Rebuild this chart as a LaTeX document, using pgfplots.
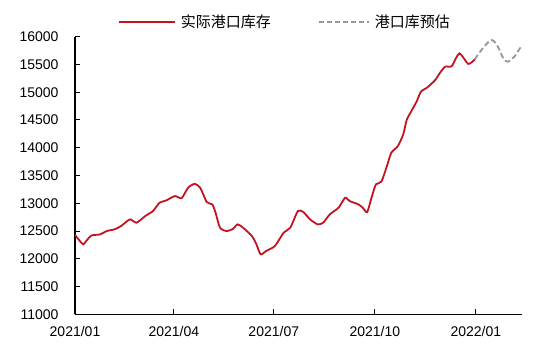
\documentclass[border=0pt]{standalone}
\usepackage{fontspec}
\setmainfont{Liberation Sans}
\newfontfamily\cjk{Noto Sans CJK SC}
\usepackage{pgfplots}
\pgfplotsset{compat=1.18}
\definecolor{redline}{RGB}{196,18,32}
\definecolor{grayline}{RGB}{150,150,150}
\begin{document}
\begin{tikzpicture}
\useasboundingbox (-75pt,-36.7pt) rectangle (475pt,314.3pt);
\begin{axis}[
  at={(0,0)}, anchor=south west,
  scale only axis, width=447pt, height=277.6pt,
  xmin=0, xmax=407, ymin=11000, ymax=16000,
  axis x line*=bottom, axis y line*=left,
  axis line style={black, line width=1.1pt, -},
  tick align=inside, major tick length=5pt,
  tick style={black, line width=1pt},
  scaled y ticks=false,
  ytick={11000,11500,...,16000},
  yticklabel={\pgfmathprintnumber[fixed,precision=0,1000 sep={}]{\tick}},
  xtick={0,90,181,273,365},
  xticklabels={2021/01,2021/04,2021/07,2021/10,2022/01},
  ticklabel style={font=\fontsize{14}{16}\selectfont},
  /pgf/number format/assume math mode=true,
  y tick label style={xshift=-13pt},
  x tick label style={yshift=-9pt},
  legend columns=2,
  legend style={draw=none, fill=none, inner sep=0pt,
    at={(axis description cs:0,1)}, anchor=west, xshift=43pt, yshift=15pt,
    font=\fontsize{15}{18}\selectfont\cjk,
    /tikz/every odd column/.append style={column sep=3pt},
    /tikz/every even column/.append style={column sep=45pt}},
]
\addplot[redline, line width=1.8pt, smooth, tension=0.4,
  legend image code/.code={\draw[redline, line width=1.8pt] (0pt,0pt) -- (56pt,0pt);}]
coordinates {
(0,12430) (4,12330) (7.5,12260) (11,12340) (15,12420) (23,12440) (29,12500)
(36,12530) (42,12590) (50,12710) (56,12650) (64,12770) (71,12860) (77,13010)
(83,13050) (91,13130) (97,13090) (103,13280) (109,13350) (114,13280) (120,13020)
(125,12980) (128,12830) (132,12560) (138,12500) (144,12540) (148,12620) (153,12560)
(161,12410) (165,12270) (169,12080) (174,12140) (182,12230) (190,12470) (196,12560)
(203,12860) (208,12840) (214,12710) (221,12620) (226,12650) (232,12800) (240,12920)
(246,13100) (250,13040) (258,12980) (262,12920) (266,12840) (270,13100) (274,13340)
(279,13390) (284,13670) (288,13910) (294,14030) (299,14250) (302,14500) (306,14650)
(311,14830) (315,15010) (321,15090) (328,15220) (332,15340) (337,15460) (343,15470)
(350,15700) (358,15510) (364,15590)
};
\addlegendentry{实际港口库存}
\addplot[grayline, line width=1.8pt, smooth, tension=0.5, dash pattern=on 5.5pt off 3pt,
  legend image code/.code={\draw[grayline, line width=1.8pt, dash pattern=on 5pt off 3pt] (0pt,0pt) -- (50pt,0pt);}]
coordinates {
(364,15590) (370,15760) (379,15940) (385,15820) (390,15610) (394,15550) (400,15640) (406,15820)
};
\addlegendentry{港口库预估}
\end{axis}
\end{tikzpicture}
\end{document}
